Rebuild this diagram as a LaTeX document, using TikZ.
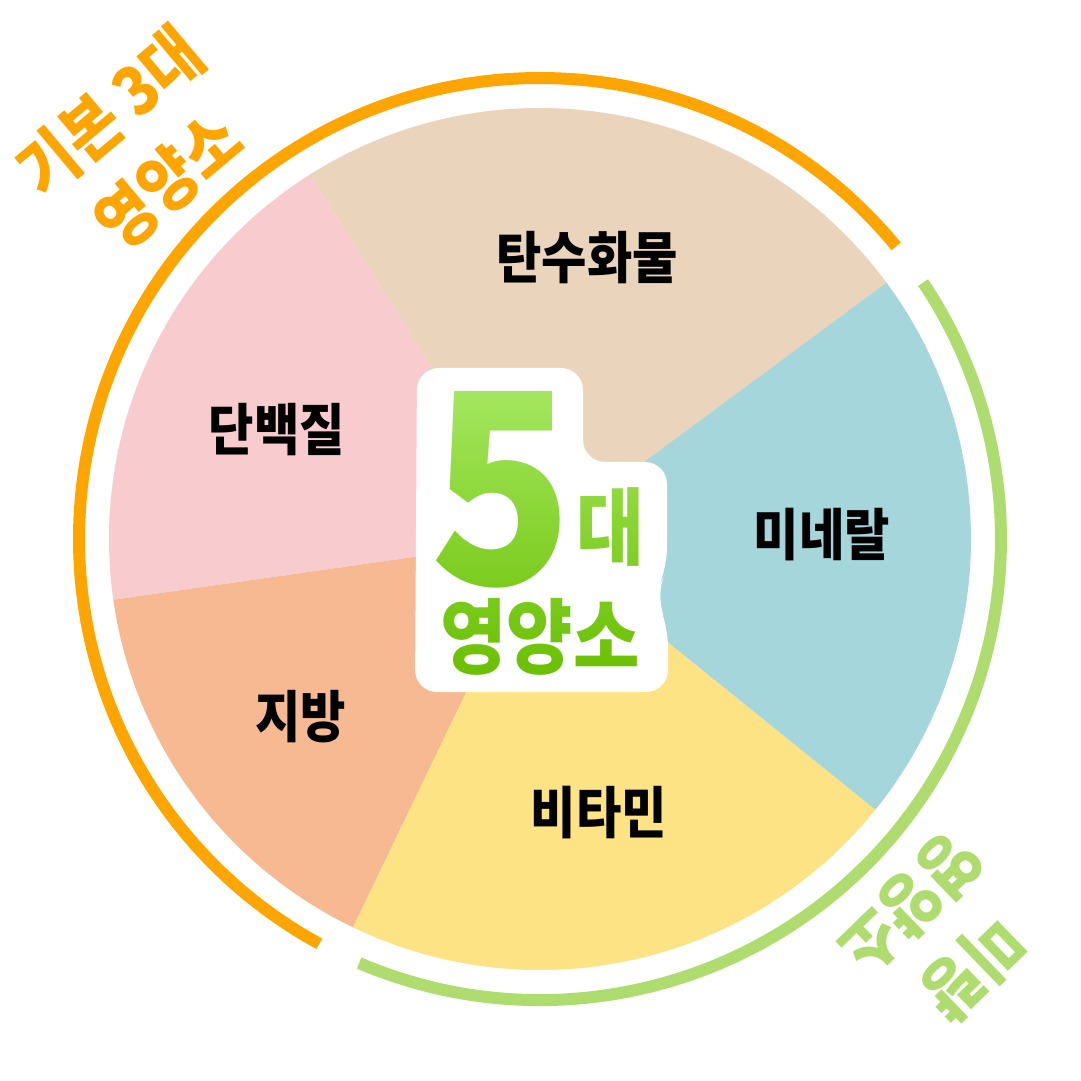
\documentclass[tikz,border=0pt]{standalone}
\usepackage{fontspec}
\usepackage{tikz}
\usetikzlibrary{fadings}
\newfontfamily\krfont{Noto Sans CJK KR Black}[FakeStretch=0.88]

\definecolor{carbColor}{HTML}{EAD5BC}
\definecolor{mineralColor}{HTML}{A4D6DB}
\definecolor{vitaminColor}{HTML}{FEE384}
\definecolor{fatColor}{HTML}{F6B991}
\definecolor{proteinColor}{HTML}{F8CBCE}
\definecolor{majorColor}{HTML}{FFA500}
\definecolor{minorColor}{HTML}{AEDC6E}
\definecolor{titleTop}{HTML}{A6E862}
\definecolor{titleBottom}{HTML}{69BF00}

\newcommand{\drawSlice}[3]{\fill [#1] (0,0) -- (#2:431) arc [start angle=#2, end angle=#3, radius=431] -- cycle}
\newcommand{\drawBand}[3]{\draw [#1, line width=12pt] (#2:461) arc [start angle=#2, end angle=#3, radius=461]}

\tikzset{
  sliceText/.style={font=\krfont\fontsize{56}{60}\selectfont, text=black, inner sep=0pt},
  bandText/.style={font=\krfont\fontsize{68}{90}\selectfont, align=center, inner sep=0pt},
  titleText/.style={text=transparent!0, inner sep=0pt}
}

\begin{tikzfadingfrompicture}[name=titlefade, x=1pt, y=1pt]
  \path (-130,-150) rectangle (130,150);
  \node [titleText, font=\krfont\fontsize{266}{266}\selectfont] (five) at (-38,49) {5};
  \node [titleText, font=\krfont\fontsize{84}{84}\selectfont] (dae) at (71,12) {대};
  \node [titleText, font=\krfont\fontsize{82}{82}\selectfont] (nutri) at (0,-98) {영양소};
\end{tikzfadingfrompicture}

\begin{document}
\begin{tikzpicture}[x=1pt, y=1pt]
    \useasboundingbox (-540,-542) rectangle (540,539);
    \fill [white] (-540,-542) rectangle (540,539);

    %slices
    \drawSlice{carbColor}{36.5}{122.3};
    \drawSlice{proteinColor}{122.3}{188.1};
    \drawSlice{fatColor}{188.1}{244.3};
    \drawSlice{vitaminColor}{244.3}{321.1};
    \drawSlice{mineralColor}{321.1}{396.5};

    %outer bands
    \drawBand{majorColor}{39.4}{241.4};
    \drawBand{minorColor}{246.9}{393.8};

    %slice names
    \node [sliceText] (carb) at (47,281) {탄수화물};
    \node [sliceText] (protein) at (-263,109) {단백질};
    \node [sliceText] (fat) at (-239,-178) {지방};
    \node [sliceText] (vitamin) at (59,-274) {비타민};
    \node [sliceText] (mineral) at (282,4) {미네랄};

    %band names
    \node [bandText, text=majorColor, rotate=40] (major) at (-401,393) {기본 3대\\영양소};
    \node [bandText, text=minorColor, rotate=224] (minor) at (402,-397) {미량\\영양소};

    %centre badge
    \fill [white, rounded corners=22pt] (-123,171) -- (43,171) -- (43,77) -- (127,77)
        -- (127,-31) -- (115,-56) -- (128,-86) -- (128,-153) -- (-125,-153) -- cycle;
    \begin{scope}[shift={(0,9)}]
        \shade [path fading=titlefade, fit fading=false, top color=titleTop, bottom color=titleBottom]
            (-130,-150) rectangle (130,150);
    \end{scope}
\end{tikzpicture}
\end{document}
